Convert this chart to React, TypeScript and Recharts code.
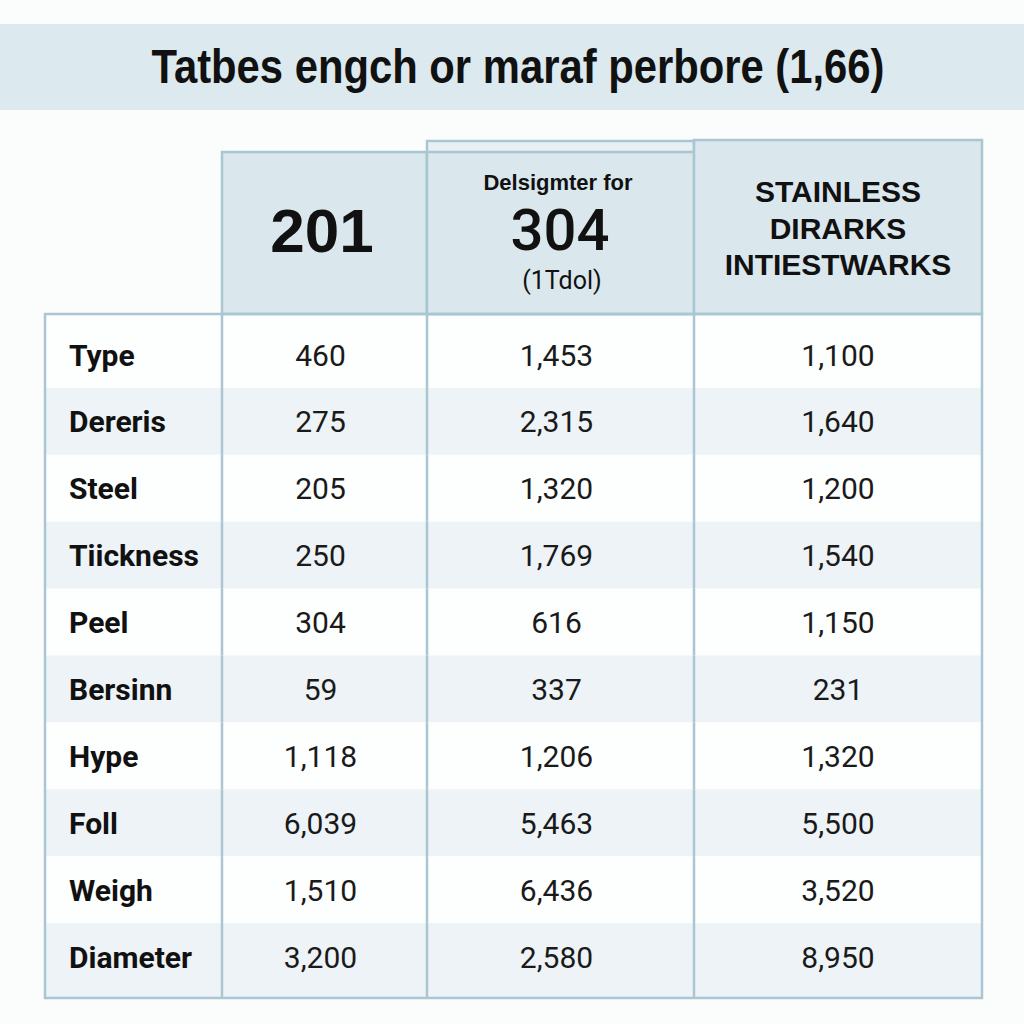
import { BarChart, Bar, XAxis, YAxis } from 'recharts';

const rowLabels = ['Type', 'Dereris', 'Steel', 'Tiickness', 'Peel', 'Bersinn', 'Hype', 'Foll', 'Weigh', 'Diameter'];
const grade201 = [460, 275, 205, 250, 304, 59, 1118, 6039, 1510, 3200];
const grade304 = [1453, 2315, 1320, 1769, 616, 337, 1206, 5463, 6436, 2580];
const stainless = [1100, 1640, 1200, 1540, 1150, 231, 1320, 5500, 3520, 8950];

const title = 'Tatbes engch or maraf perbore (1,66)';

// column widths of the table (layout only)
const colWidths = [177, 205, 267, 288];
const tableLeft = 45;
const tableTop = 314;
const tableWidth = 937;
const tableHeight = 684;

const BORDER = '#a9c6d1';
const HEADER_BG = '#dae7ed';
const ALT = '#edf3f6';
const WHITE = '#fdfefe';
const SANS = 'Roboto, "Liberation Sans", Arial, sans-serif';
const ARIAL = '"Liberation Sans", Arial, sans-serif';

const rows = rowLabels.map((label, i) => ({
  label,
  values: [grade201[i], grade304[i], stainless[i]],
  w0: colWidths[0],
  w1: colWidths[1],
  w2: colWidths[2],
  w3: colWidths[3],
}));

const fmt = (v: number) => v.toLocaleString('en-US');

const makeCell = (col: number) => (props: any) => {
  const { x, y, width, height, index, payload } = props;
  const last = index === rowLabels.length - 1;
  const top = index === 0 ? y - 7 : y;
  const bottom = last ? y + height + 8 : y + height;
  const cy = y + height / 2;
  const fill = index % 2 === 1 ? ALT : WHITE;
  return (
    <g>
      <rect x={x} y={top} width={width} height={bottom - top} fill={fill} />
      {col > 0 && (
        <line x1={x} x2={x} y1={top} y2={bottom} stroke={BORDER} strokeWidth={2.5} />
      )}
      {col === 0 ? (
        <text x={x + 24} y={cy + 11} fontFamily={SANS} fontWeight={700} fontSize={30} fill="#111">
          {payload.label}
        </text>
      ) : (
        <text
          x={x + width / 2 - (col < 3 ? 4 : 0)}
          y={cy + 11}
          textAnchor="middle"
          fontFamily={SANS}
          fontSize={30}
          fill="#1a1a1a"
        >
          {fmt(payload.values[col - 1])}
        </text>
      )}
    </g>
  );
};

export default function App() {
  return (
    <div style={{ position: 'absolute', left: 0, top: 0, width: 1024, height: 1024, background: '#fbfcfc' }}>
      <div style={{ position: 'absolute', left: tableLeft, top: tableTop }}>
        <BarChart
          width={tableWidth}
          height={tableHeight}
          data={rows}
          layout="vertical"
          margin={{ top: 7, right: 0, bottom: 8, left: 0 }}
          barCategoryGap={0}
          barGap={0}
        >
          <XAxis type="number" domain={[0, tableWidth]} hide />
          <YAxis type="category" dataKey="label" hide />
          {['w0', 'w1', 'w2', 'w3'].map((k, i) => (
            <Bar key={k} dataKey={k} stackId="t" shape={makeCell(i)} isAnimationActive={false} />
          ))}
        </BarChart>
      </div>
      <svg
        width={1024}
        height={1024}
        style={{ position: 'absolute', left: 0, top: 0, pointerEvents: 'none' }}
      >
        <rect x={0} y={24} width={1024} height={86} fill="#dce9ee" />
        <text
          x={518}
          y={83}
          textAnchor="middle"
          fontFamily={ARIAL}
          fontWeight={700}
          fontSize={48}
          textLength={733}
          lengthAdjust="spacingAndGlyphs"
          fill="#111"
        >
          {title}
        </text>

        <rect x={222} y={152} width={205} height={162} fill={HEADER_BG} stroke={BORDER} strokeWidth={2.5} />
        <text x={322} y={252} textAnchor="middle" fontFamily={ARIAL} fontWeight={700} fontSize={62} fill="#111">
          201
        </text>

        <rect x={427} y={141} width={267} height={173} fill="#e8f0f3" stroke={BORDER} strokeWidth={2.5} />
        <rect x={427} y={152} width={267} height={162} fill={HEADER_BG} stroke={BORDER} strokeWidth={2.5} />
        <text x={558} y={190} textAnchor="middle" fontFamily={ARIAL} fontWeight={700} fontSize={22} fill="#111">
          Delsigmter for
        </text>
        <text x={560} y={250} textAnchor="middle" fontFamily={SANS} fontWeight={500} fontSize={58} fill="#111">
          304
        </text>
        <text x={562} y={289} textAnchor="middle" fontFamily={SANS} fontSize={25} fill="#111">
          (1Tdol)
        </text>

        <rect x={694} y={140} width={288} height={174} fill={HEADER_BG} stroke={BORDER} strokeWidth={2.5} />
        {['STAINLESS', 'DIRARKS', 'INTIESTWARKS'].map((t, i) => (
          <text
            key={t}
            x={838}
            y={202 + i * 36.5}
            textAnchor="middle"
            fontFamily={ARIAL}
            fontWeight={700}
            fontSize={30}
            fill="#111"
          >
            {t}
          </text>
        ))}

        <rect
          x={tableLeft}
          y={tableTop}
          width={tableWidth}
          height={tableHeight}
          fill="none"
          stroke={BORDER}
          strokeWidth={2.5}
        />
      </svg>
    </div>
  );
}
